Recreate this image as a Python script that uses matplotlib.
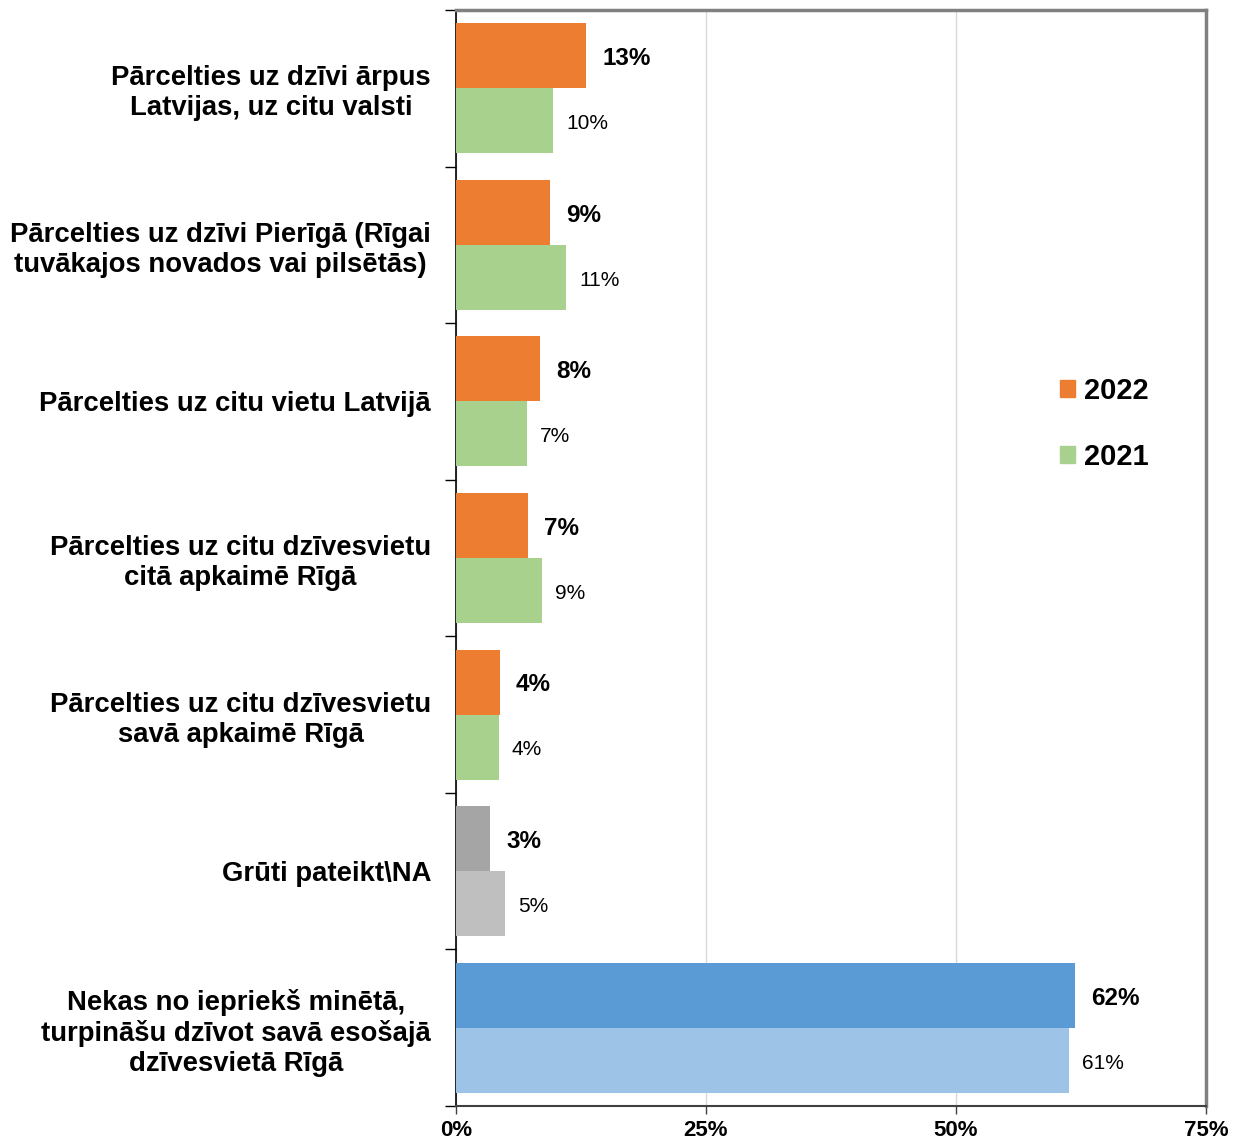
import matplotlib
matplotlib.use("Agg")
import matplotlib.pyplot as plt
from matplotlib.patches import Patch
import numpy as np

plt.rcParams['font.family'] = ['Liberation Sans', 'DejaVu Sans']

categories = [
    "Pārcelties uz dzīvi ārpus\nLatvijas, uz citu valsti",
    "Pārcelties uz dzīvi Pierīgā (Rīgai\ntuvākajos novados vai pilsētās)",
    "Pārcelties uz citu vietu Latvijā",
    "Pārcelties uz citu dzīvesvietu\ncitā apkaimē Rīgā",
    "Pārcelties uz citu dzīvesvietu\nsavā apkaimē Rīgā",
    "Grūti pateikt\\NA",
    "Nekas no iepriekš minētā,\nturpināšu dzīvot savā esošajā\ndzīvesvietā Rīgā",
]
values_2022 = [13.0, 9.4, 8.4, 7.2, 4.4, 3.4, 61.9]
values_2021 = [9.7, 11.0, 7.1, 8.6, 4.3, 4.9, 61.3]
labels_2022 = ["13%", "9%", "8%", "7%", "4%", "3%", "62%"]
labels_2021 = ["10%", "11%", "7%", "9%", "4%", "5%", "61%"]
series_names = ["2022", "2021"]
colors_2022 = ["#ED7D31"] * 5 + ["#A5A5A5", "#5B9BD5"]
colors_2021 = ["#A9D18E"] * 5 + ["#BFBFBF", "#9DC3E6"]
x_ticks = [0, 25, 50, 75]

fig = plt.figure(figsize=(12.39, 11.42), dpi=100)
ax = fig.add_axes([456/1239, 1 - 1106/1142, 750/1239, 1096/1142])

n = len(categories)
pos = np.arange(n)
h = 0.415
ax.barh(pos - h/2, values_2022, height=h, color=colors_2022, zorder=3)
ax.barh(pos + h/2, values_2021, height=h, color=colors_2021, zorder=3)

for i in range(n):
    ax.text(values_2022[i] + 1.6, pos[i] - h/2 + 0.018, labels_2022[i], va='center', ha='left',
            fontsize=17.5, fontweight='bold', color='black')
    ax.text(values_2021[i] + 1.3, pos[i] + h/2 + 0.018, labels_2021[i], va='center', ha='left',
            fontsize=15, color='black')

ax.set_xlim(0, 75)
ax.set_ylim(n - 0.5, -0.5)
ax.set_xticks(x_ticks)
ax.set_xticklabels([f"{t}%" for t in x_ticks], fontsize=16, fontweight='bold')
ax.set_yticks(np.arange(n + 1) - 0.5)
ax.set_yticklabels([])
ax.set_yticks(pos, minor=True)
ax.set_yticklabels(categories, minor=True, fontsize=19.8, fontweight='bold', ha='right')
ax.tick_params(axis='y', which='minor', length=0, pad=18)
ax.tick_params(axis='y', which='major', length=8, width=1, color='black', direction='out')
ax.tick_params(axis='x', length=6, width=1, color='#404040', direction='out', pad=4)
for lbl in ax.get_yticklabels(minor=True):
    lbl.set_multialignment('center')
    lbl.set_linespacing(1.2)

ax.grid(axis='x', color='#D9D9D9', linewidth=1, zorder=0)
ax.set_axisbelow(True)
ax.spines['left'].set_color('black')
ax.spines['left'].set_linewidth(1.2)
ax.spines['bottom'].set_color('#404040')
ax.spines['bottom'].set_linewidth(1.5)
ax.spines['top'].set_color('#808080')
ax.spines['top'].set_linewidth(2.5)
ax.spines['right'].set_color('#808080')
ax.spines['right'].set_linewidth(2.5)

handles = [Patch(color=colors_2022[0], label=series_names[0]),
           Patch(color=colors_2021[0], label=series_names[1])]
fig.legend(handles=handles, loc='center left', bbox_to_anchor=(1034/1239, 1 - 424/1142),
           frameon=False, prop={'size': 21, 'weight': 'bold'}, handlelength=0.52,
           handleheight=0.52, handletextpad=0.28, labelspacing=1.3)

fig.savefig("out.png", dpi=100, facecolor='white')
